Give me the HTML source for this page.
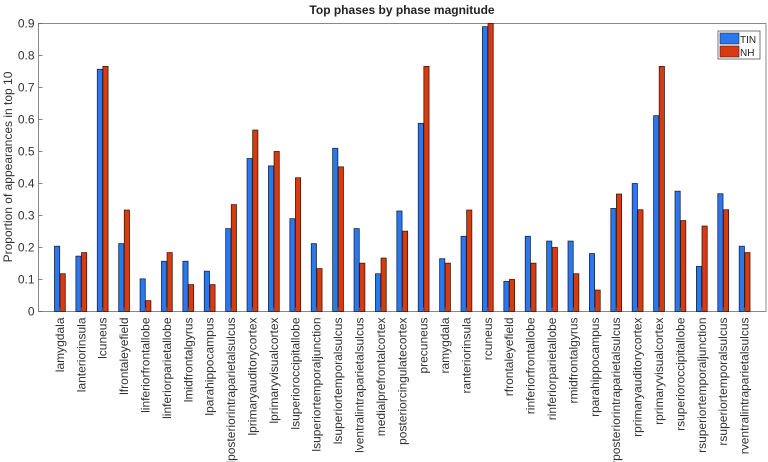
<!DOCTYPE html>
<html><head><meta charset="utf-8"><style>
html,body{margin:0;padding:0;background:#fff;}
svg{display:block;font-family:"Liberation Sans",sans-serif;}
</style></head><body>
<svg id="chart" width="768" height="462">
<text x="402" y="14" text-anchor="middle" font-size="12" font-weight="bold" fill="#222">Top phases by phase magnitude</text>
<text transform="translate(12,167) rotate(-90)" text-anchor="middle" font-size="12" fill="#333">Proportion of appearances in top 10</text>
<g id="plot"></g>
<g>
<rect x="718" y="31" width="42" height="28" fill="#fff" stroke="#555" stroke-width="0.8"/>
<rect x="720" y="33" width="19" height="11" fill="#2a78ee" stroke="#223" stroke-width="0.6"/>
<text x="740" y="43" font-size="10" fill="#222">TIN</text>
<rect x="720" y="46" width="19" height="11" fill="#d93a10" stroke="#223" stroke-width="0.6"/>
<text x="740" y="56" font-size="10" fill="#222">NH</text>
</g>
</svg>
<script>
const categories = ["lamygdala","lanteriorinsula","lcuneus","lfrontaleyefield","linferiorfrontallobe","linferiorparietallobe","lmidfrontalgyrus","lparahippocampus","lposteriorintraparietalsulcus","lprimaryauditorycortex","lprimaryvisualcortex","lsuperioroccipitallobe","lsuperiortemporaljunction","lsuperiortemporalsulcus","lventralintraparietalsulcus","medialprefrontalcortex","posteriorcingulatecortex","precuneus","ramygdala","ranteriorinsula","rcuneus","rfrontaleyefield","rinferiorfrontallobe","rinferiorparietallobe","rmidfrontalgyrus","rparahippocampus","rposteriorintraparietalsulcus","rprimaryauditorycortex","rprimaryvisualcortex","rsuperioroccipitallobe","rsuperiortemporaljunction","rsuperiortemporalsulcus","rventralintraparietalsulcus"];
const tinValues = [0.204,0.173,0.757,0.212,0.102,0.157,0.157,0.126,0.259,0.478,0.455,0.290,0.212,0.510,0.259,0.118,0.314,0.588,0.165,0.235,0.890,0.094,0.235,0.220,0.220,0.181,0.322,0.400,0.612,0.376,0.141,0.368,0.204];
const nhValues = [0.118,0.184,0.766,0.317,0.034,0.184,0.084,0.084,0.334,0.567,0.500,0.418,0.134,0.452,0.151,0.167,0.251,0.766,0.151,0.317,0.900,0.100,0.151,0.200,0.118,0.067,0.367,0.318,0.766,0.284,0.267,0.318,0.184];
const yTicks = [0,0.1,0.2,0.3,0.4,0.5,0.6,0.7,0.8,0.9];
const yTickLabels = ["0","0.1","0.2","0.3","0.4","0.5","0.6","0.7","0.8","0.9"];

const L=38.5,R=766,T=23.5,B=311.5,yMax=0.9;
const xScale=i=>L+(i+1)*(R-L)/(categories.length+1);
const yScale=v=>B-(v/yMax)*(B-T);
const NS="http://www.w3.org/2000/svg";
const g=document.getElementById('plot');
function mk(tag,attrs){const e=document.createElementNS(NS,tag);for(const k in attrs)e.setAttribute(k,attrs[k]);return e;}

const frame=mk('rect',{x:L,y:T,width:R-L,height:B-T,fill:'none',stroke:'#888','stroke-width':1});


g.appendChild(frame);

yTicks.forEach((t,i)=>{
  const y=yScale(t);
  const tk=mk('line',{x1:L,x2:L+4,y1:y,y2:y,stroke:'#666','stroke-width':0.8});
  
  
  g.appendChild(tk);
  const tx=mk('text',{x:L-4,y:y+4,'text-anchor':'end','font-size':12,fill:'#333'});
  tx.textContent=yTickLabels[i];
  
  
  g.appendChild(tx);
});

const bw=5.2,off=2.8;
categories.forEach((c,i)=>{
  const cx=xScale(i);
  const yb=yScale(tinValues[i]);
  const b1=mk('rect',{x:cx-off-bw/2,y:yb,width:bw,height:B-yb,fill:'#2a78ee',stroke:'#1a2540','stroke-width':0.8});
  
  
  g.appendChild(b1);
  const yr=yScale(nhValues[i]);
  const b2=mk('rect',{x:cx+off-bw/2,y:yr,width:bw,height:B-yr,fill:'#d93a10',stroke:'#3a1a10','stroke-width':0.8});
  
  
  g.appendChild(b2);
  const tk=mk('line',{x1:cx,x2:cx,y1:B,y2:B-4,stroke:'#666','stroke-width':0.8});
  
  
  g.appendChild(tk);
  const lb=mk('text',{transform:`translate(${cx+4},${B+6}) rotate(-90)`,'text-anchor':'end','font-size':12,fill:'#333'});
  lb.textContent=c;
  
  
  g.appendChild(lb);
});
</script>
</body></html>
